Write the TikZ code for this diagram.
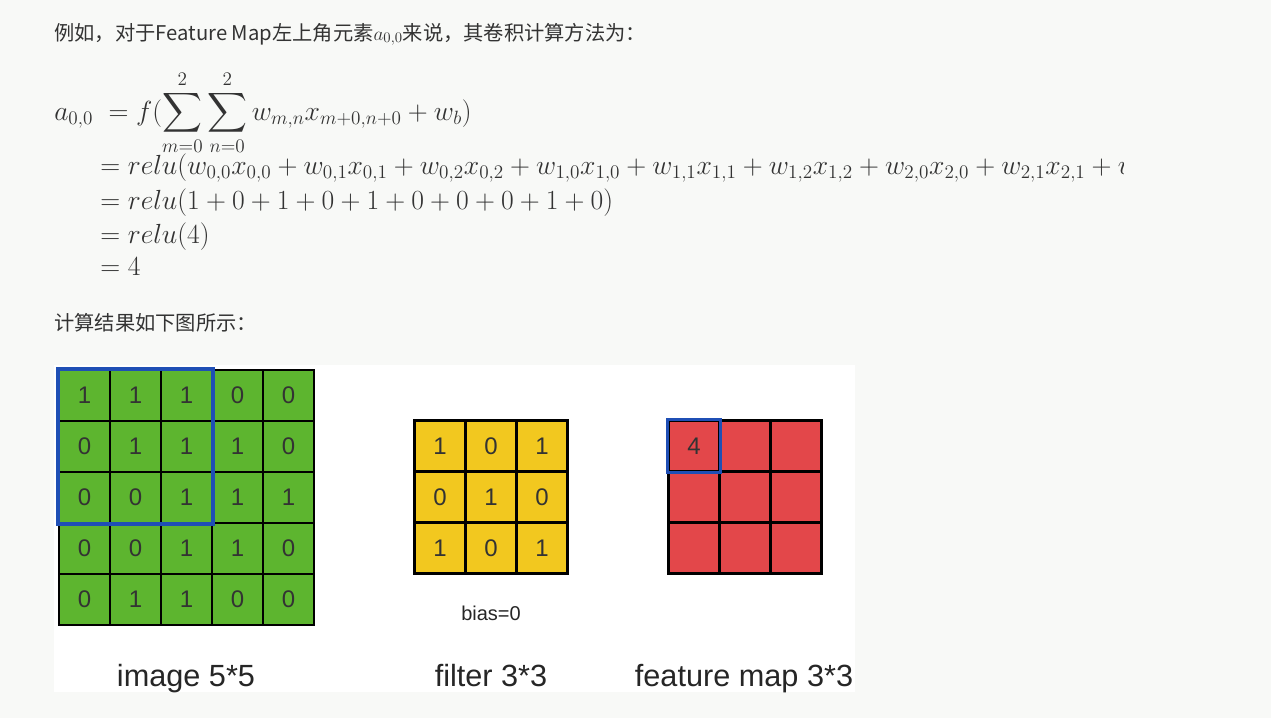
\documentclass[tikz,border=0pt]{standalone}
\usepackage{fontspec}
\usepackage{amsmath}
\newfontfamily\cjk{Noto Sans CJK SC}
\newfontfamily\hel{Liberation Sans}
\definecolor{bg}{HTML}{F8F9F7}
\definecolor{gr}{HTML}{5DB52F}
\definecolor{ye}{HTML}{F2C81F}
\definecolor{rd}{HTML}{E3474A}
\definecolor{bl}{HTML}{1F4FB5}
\definecolor{tx}{HTML}{333333}
\tikzset{
  cell/.style={draw=black,line width=1.6pt,minimum size=38.2pt,inner sep=0pt,font=\hel\fontsize{18}{20}\selectfont,text=black!80},
  lbl/.style={font=\hel\fontsize{23}{26}\selectfont,text=black!85,inner sep=0pt,anchor=base},
  ln/.style={anchor=base west,inner sep=0pt,text=tx,font=\fontsize{19.7}{23}\selectfont}
}
\begin{document}
\begin{tikzpicture}[x=0.75pt,y=-0.75pt]
\fill[bg] (0,0) rectangle (1271,718);
\useasboundingbox (0,0) rectangle (1271,718);
\node[ln,font=\cjk\fontsize{15.2}{18}\selectfont] (t1) at (54,40) {例如，对于Feature Map左上角元素$a_{0,0}$来说，其卷积计算方法为：};
\node[ln] (f1) at (54,120) {$a_{0,0}\;=f(\displaystyle\sum_{m=0}^{2}\sum_{n=0}^{2}w_{m,n}x_{m+0,n+0}+w_b)$};
\begin{scope}
\clip (0,148) rectangle (1123,190);
\node[ln] (f2) at (100,174) {$=relu(w_{0,0}x_{0,0}+w_{0,1}x_{0,1}+w_{0,2}x_{0,2}+w_{1,0}x_{1,0}+w_{1,1}x_{1,1}+w_{1,2}x_{1,2}+w_{2,0}x_{2,0}+w_{2,1}x_{2,1}+w_{2,2}x_{2,2})$};
\end{scope}
\node[ln] (f3) at (100,209) {$=relu(1+0+1+0+1+0+0+0+1+0)$};
\node[ln] (f4) at (100,243) {$=relu(4)$};
\node[ln] (f5) at (100,275) {$=4$};
\node[ln,font=\cjk\fontsize{15.2}{18}\selectfont] (t2) at (54,330) {计算结果如下图所示：};
\fill[white] (54,365) rectangle (855,692);
% image
\foreach \r/\row in {0/{1,1,1,0,0},1/{0,1,1,1,0},2/{0,0,1,1,1},3/{0,0,1,1,0},4/{0,1,1,0,0}}{
  \foreach \v [count=\c from 0] in \row {
    \node[cell,fill=gr] (g\r\c) at (84.5+51*\c,395.5+51*\r) {\v};
  }
}
\draw[bl,line width=2.4pt] (g00.north west) rectangle (g22.south east);
% filter
\foreach \r/\row in {0/{1,0,1},1/{0,1,0},2/{1,0,1}}{
  \foreach \v [count=\c from 0] in \row {
    \node[cell,fill=ye] (y\r\c) at (440+51*\c,446+51*\r) {\v};
  }
}
% feature map
\foreach \r in {0,1,2}{\foreach \c in {0,1,2}{
  \node[cell,fill=rd] (r\r\c) at (694+51*\c,446+51*\r) {};
}}
\node[font=\hel\fontsize{18}{20}\selectfont,text=black!80] at (r00) {4};
\draw[bl,line width=2.4pt] (r00.north west) rectangle (r00.south east);
\node[font=\hel\fontsize{15}{18}\selectfont,text=black!85] (bias) at (491,613) {bias=0};
\node[lbl] (l1) at (186,686) {image 5*5};
\node[lbl] (l2) at (491,686) {filter 3*3};
\node[lbl] (l3) at (744,686) {feature map 3*3};
\end{tikzpicture}
\end{document}
